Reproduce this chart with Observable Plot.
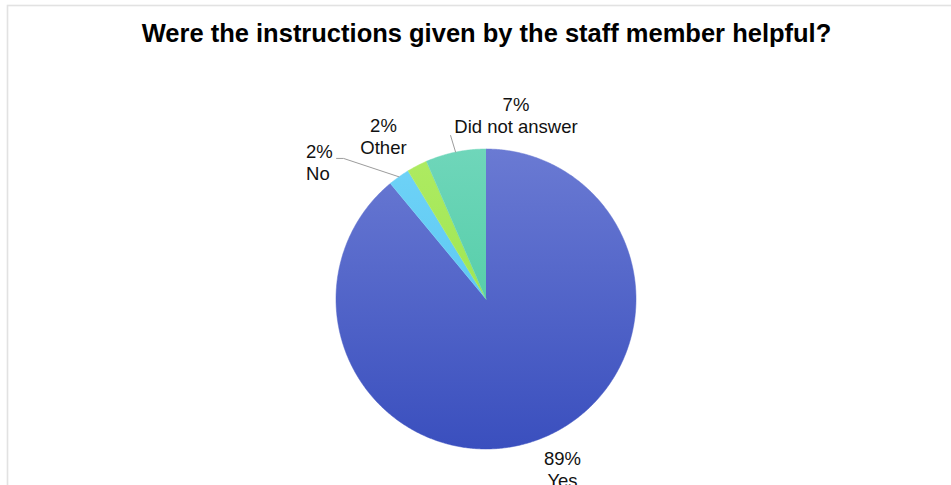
<!DOCTYPE html>
<html><head><meta charset="utf-8">
<script src="https://cdn.jsdelivr.net/npm/d3@7"></script>
<script src="https://cdn.jsdelivr.net/npm/@observablehq/plot@0.6"></script>
<style>html,body{margin:0;padding:0;background:#fff;overflow:hidden}</style>
</head><body><div id="chart"></div>
<script>
// ---- data ----
const title = "Were the instructions given by the staff member helpful?";
const categories = ["Yes", "No", "Other", "Did not answer"];
const shares = [89, 2.3, 2.2, 6.5];
const percentLabels = ["89%", "2%", "2%", "7%"];

// ---- layout / style ----
const W = 951, H = 485, CX = 485.5, CY = 298.5, R = 150;
const FONT = "'Liberation Sans', Arial, Helvetica, sans-serif";
const palette = {
  "Yes": ["#6a7ad3", "#3a4fbe"],
  "No": ["#70d3f7", "#4cc0f0"],
  "Other": ["#afeb62", "#8ee246"],
  "Did not answer": ["#6fd6ba", "#40c79a"]
};
const labelOffset = {"Yes": [25.7, 46.7], "No": [-92.9, 2.9], "Other": [-33.6, -12], "Did not answer": [60.4, -18.9]};
const leaderBends = {"No": [[-55.4, -18.4], [-62.4, -18.4]], "Did not answer": [[-5, -16.6]]};
const labelAlign = {"No": "start"};

const data = categories.map((c, i) => ({category: c, share: shares[i], label: percentLabels[i] + "\n" + c}));
const arcs = d3.pie().sort(null).value(d => d.share)(data);
const wedges = arcs.map(a => {
  const pts = [{x: 0, y: 0}];
  const n = Math.max(4, Math.ceil((a.endAngle - a.startAngle) / (Math.PI / 360)));
  for (let k = 0; k <= n; k++) {
    const t = a.startAngle + (a.endAngle - a.startAngle) * k / n;
    pts.push({x: Math.sin(t), y: Math.cos(t)});
  }
  return pts;
});
const mids = arcs.map(a => {
  const m = (a.startAngle + a.endAngle) / 2;
  return {...a.data, x: Math.sin(m), y: Math.cos(m)};
});
const disc = d3.range(0, 721).map(k => ({x: Math.sin(k * Math.PI / 360), y: Math.cos(k * Math.PI / 360)}));
const leaders = mids.filter(m => leaderBends[m.category]).flatMap(m => [
  {category: m.category, x: m.x, y: m.y},
  ...leaderBends[m.category].map(([dx, dy]) => ({category: m.category, x: m.x + dx / R, y: m.y - dy / R}))
]);

const marks = [
  Plot.frame({stroke: "#e2e2e2", strokeWidth: 1.6, insetLeft: 7, insetTop: 5, insetRight: -20, insetBottom: -20}),
  Plot.line(disc, {x: "x", y: "y", fill: "#3a4fbe", stroke: "none", ariaLabel: "pie-shadow"}),
  ...wedges.map((w, i) => Plot.line(w, {x: "x", y: "y", fill: `url(#grad-${i})`, stroke: `url(#grad-${i})`, strokeWidth: 0.5, curve: "linear"})),
  Plot.line(leaders, {x: "x", y: "y", z: "category", stroke: "#9c9c9c", strokeWidth: 1}),
  ...mids.map(m => Plot.text([m], {
    x: "x", y: "y", text: "label",
    dx: labelOffset[m.category][0], dy: labelOffset[m.category][1],
    lineAnchor: "bottom", lineHeight: 1.19, fontSize: 18.5, fontFamily: FONT,
    fill: "#111", textAnchor: labelAlign[m.category] || "middle"
  })),
  Plot.text([title], {frameAnchor: "top", lineAnchor: "bottom", dx: 10.5, dy: 41,
    fontSize: 25.5, fontWeight: "bold", fontFamily: FONT, fill: "#000"})
];

const chart = Plot.plot({
  width: W, height: H, margin: 0,
  x: {domain: [-1, 1], range: [CX - R, CX + R], axis: null},
  y: {domain: [-1, 1], range: [CY + R, CY - R], axis: null},
  style: {background: "#fff", overflow: "hidden"},
  marks
});

// gradients
const ns = "http://www.w3.org/2000/svg";
const defs = document.createElementNS(ns, "defs");
categories.forEach((c, i) => {
  const g = document.createElementNS(ns, "linearGradient");
  g.setAttribute("id", `grad-${i}`);
  g.setAttribute("gradientUnits", "userSpaceOnUse");
  g.setAttribute("x1", 0); g.setAttribute("x2", 0);
  g.setAttribute("y1", CY - R); g.setAttribute("y2", CY + R);
  palette[c].forEach((col, j) => {
    const s = document.createElementNS(ns, "stop");
    s.setAttribute("offset", j ? "1" : "0");
    s.setAttribute("stop-color", col);
    g.appendChild(s);
  });
  defs.appendChild(g);
});
chart.insertBefore(defs, chart.firstChild);
const sh = chart.querySelector('[aria-label="pie-shadow"]');
if (sh) sh.style.filter = "drop-shadow(1.5px 2px 2.5px rgba(0,0,0,0.45))";
document.getElementById("chart").appendChild(chart);
</script>
</body></html>
